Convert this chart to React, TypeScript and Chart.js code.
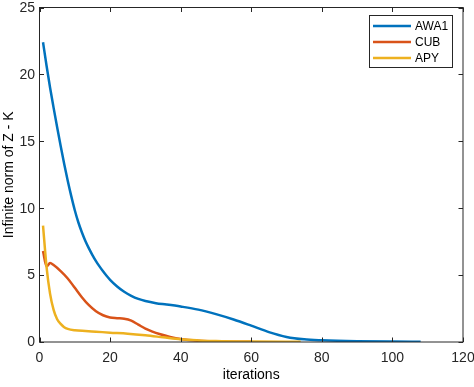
import React, { useEffect, useRef } from "react";
import { Chart, registerables } from "chart.js";

Chart.register(...registerables);

const seriesLabels = ["AWA1", "CUB", "APY"];
const seriesColors = ["#0072BD", "#D95319", "#EDB120"];

const awaIters = [1, 2, 3, 4, 5, 6, 7, 8, 9, 10, 11, 12, 13, 14, 15, 16, 17, 18, 19, 20, 22, 24, 26, 28, 30, 33, 36, 40, 45, 50, 55, 60, 65, 70, 75, 80, 90, 100, 108];
const awaValues = [22.4, 20.65, 19.0, 17.5, 16.05, 14.65, 13.3, 12.05, 10.9, 9.85, 8.95, 8.2, 7.55, 7.0, 6.5, 6.05, 5.65, 5.28, 4.95, 4.65, 4.15, 3.75, 3.45, 3.22, 3.06, 2.9, 2.8, 2.65, 2.42, 2.08, 1.68, 1.22, 0.74, 0.38, 0.2, 0.13, 0.06, 0.03, 0.02];

const cubIters = [1, 2, 3, 4, 6, 8, 10, 12, 14, 16, 18, 20, 22, 24, 26, 28, 30, 32, 34, 37, 40, 45, 50, 60];
const cubValues = [6.8, 5.65, 5.9, 5.75, 5.3, 4.75, 4.05, 3.35, 2.75, 2.3, 2.0, 1.83, 1.78, 1.74, 1.6, 1.3, 1.0, 0.78, 0.6, 0.38, 0.22, 0.09, 0.04, 0.01];

const apyIters = [1, 2, 3, 4, 5, 6, 7, 8, 10, 13, 16, 20, 25, 30, 35, 40, 45, 50, 60, 74];
const apyValues = [8.7, 5.6, 3.6, 2.4, 1.7, 1.35, 1.1, 0.98, 0.88, 0.82, 0.77, 0.7, 0.62, 0.5, 0.35, 0.2, 0.12, 0.07, 0.03, 0.01];

const xTicks = [0, 20, 40, 60, 80, 100, 120];
const yTicks = [0, 5, 10, 15, 20, 25];

const xTitle = "iterations";
const yTitle = "Infinite norm of Z - K";

const AXIS_COLOR = "#262626";
const FONT = "'Liberation Sans', Arial, Helvetica, sans-serif";

const boxPlugin = {
  id: "matlabBox",
  afterDatasetsDraw(chart: any) {
    const { ctx, chartArea } = chart;
    const { left, right, top, bottom } = chartArea;
    const xs = chart.scales.x;
    const ys = chart.scales.y;
    const tl = 4.5;
    ctx.save();
    ctx.strokeStyle = AXIS_COLOR;
    ctx.lineWidth = 1;
    ctx.beginPath();
    for (const v of xTicks) {
      const px = Math.round(xs.getPixelForValue(v)) + 0.5;
      ctx.moveTo(px, bottom);
      ctx.lineTo(px, bottom - tl);
      ctx.moveTo(px, top);
      ctx.lineTo(px, top + tl);
    }
    for (const v of yTicks) {
      const py = Math.round(ys.getPixelForValue(v)) + 0.5;
      ctx.moveTo(left, py);
      ctx.lineTo(left + tl, py);
      ctx.moveTo(right, py);
      ctx.lineTo(right - tl, py);
    }
    ctx.stroke();
    ctx.strokeRect(left, top, right - left, bottom - top);

    // tick labels
    ctx.fillStyle = AXIS_COLOR;
    ctx.font = `14px ${FONT}`;
    ctx.textAlign = "center";
    ctx.textBaseline = "alphabetic";
    for (const v of xTicks) {
      ctx.fillText(String(v), xs.getPixelForValue(v), 361.5);
    }
    ctx.textAlign = "right";
    ctx.textBaseline = "middle";
    for (const v of yTicks) {
      ctx.fillText(String(v), left - 4.5, ys.getPixelForValue(v) + 0.5);
    }

    // axis titles
    ctx.fillStyle = "#000000";
    ctx.textAlign = "center";
    ctx.textBaseline = "alphabetic";
    ctx.fillText(xTitle, (left + right) / 2, 379.3);
    ctx.save();
    ctx.translate(12.7, (top + bottom) / 2);
    ctx.rotate(-Math.PI / 2);
    ctx.fillText(yTitle, 0, 0);
    ctx.restore();

    // legend box
    const lx = 369.5, ly = 15.5, lw = 83, lh = 52;
    ctx.fillStyle = "#ffffff";
    ctx.fillRect(lx, ly, lw, lh);
    ctx.strokeStyle = AXIS_COLOR;
    ctx.lineWidth = 1;
    ctx.strokeRect(lx, ly, lw, lh);
    ctx.font = `12px ${FONT}`;
    ctx.textBaseline = "middle";
    ctx.textAlign = "left";
    chart.data.datasets.forEach((ds: any, i: number) => {
      const cy = 26 + i * 16;
      ctx.strokeStyle = ds.borderColor;
      ctx.lineWidth = 2.5;
      ctx.beginPath();
      ctx.moveTo(373, cy);
      ctx.lineTo(411, cy);
      ctx.stroke();
      ctx.fillStyle = "#000000";
      ctx.fillText(ds.label, 415, cy + 0.5);
    });
    ctx.restore();
  },
};

function toPoints(xs: number[], ys: number[]) {
  return xs.map((x, i) => ({ x, y: ys[i] }));
}

export default function App() {
  const ref = useRef<HTMLCanvasElement>(null);

  useEffect(() => {
    document.body.style.margin = "0";
    const canvas = ref.current!;
    const chart = new Chart(canvas, {
      type: "line",
      data: {
        datasets: [
          { label: seriesLabels[0], data: toPoints(awaIters, awaValues), borderColor: seriesColors[0], order: 2 },
          { label: seriesLabels[1], data: toPoints(cubIters, cubValues), borderColor: seriesColors[1], order: 1 },
          { label: seriesLabels[2], data: toPoints(apyIters, apyValues), borderColor: seriesColors[2], order: 0 },
        ].map((d) => ({
          ...d,
          borderWidth: 2.5,
          pointRadius: 0,
          fill: false,
          cubicInterpolationMode: "monotone" as const,
          backgroundColor: d.borderColor,
        })),
      },
      options: {
        animation: false,
        responsive: false,
        devicePixelRatio: 1,
        layout: { padding: { top: 7.5, right: 11, left: 0, bottom: 0 } },
        plugins: { legend: { display: false }, tooltip: { enabled: false } },
        scales: {
          x: {
            type: "linear",
            min: 0,
            max: 120,
            grid: { display: false, drawTicks: false },
            border: { display: false },
            ticks: { stepSize: 20, display: false },
            title: { display: false, text: xTitle },
            afterFit(scale: any) {
              scale.height = 45;
            },
          },
          y: {
            type: "linear",
            min: 0,
            max: 25,
            grid: { display: false, drawTicks: false },
            border: { display: false },
            ticks: { stepSize: 5, display: false },
            title: { display: false, text: yTitle },
            afterFit(scale: any) {
              scale.width = 39.5;
            },
          },
        },
      },
      plugins: [boxPlugin],
    });
    return () => chart.destroy();
  }, []);

  return <canvas ref={ref} width={474} height={387} style={{ display: "block" }} />;
}
